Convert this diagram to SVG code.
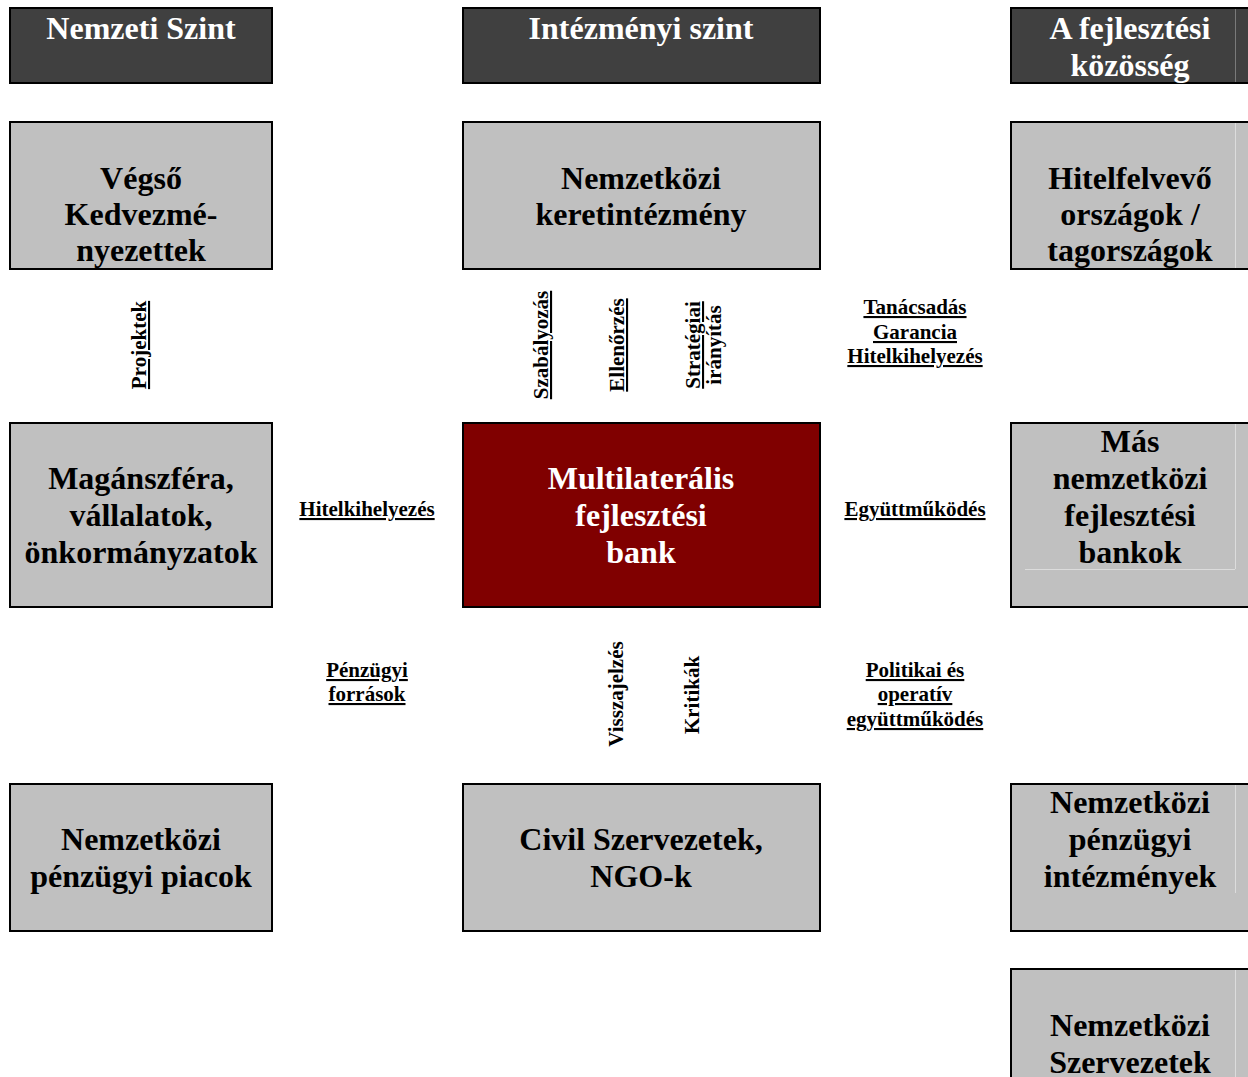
<svg xmlns="http://www.w3.org/2000/svg" width="1248" height="1077" viewBox="0 0 1248 1077">
<style>
.hdr{fill:#404040;stroke:#000;stroke-width:2}
.box{fill:#c0c0c0;stroke:#000;stroke-width:2}
.bank{fill:#800000;stroke:#000;stroke-width:2}
.t{font-family:"Liberation Serif","Times New Roman",serif;font-weight:bold;font-size:32px;text-anchor:middle}
.tw{fill:#fff}
.tb{fill:#000}
.l{font-family:"Liberation Serif","Times New Roman",serif;font-weight:bold;font-size:21px;text-anchor:middle;fill:#000}
.u{text-decoration:underline}
.seam{stroke:#dcdcdc;stroke-width:1}
</style>
<rect width="1248" height="1077" fill="#fff"/>

<g id="hdr-nemzeti">
<rect class="hdr" x="10" y="8" width="262" height="75"/>
<text class="t tw" x="141" y="39">Nemzeti Szint</text>
</g>
<g id="hdr-intezmenyi">
<rect class="hdr" x="463" y="8" width="357" height="75"/>
<text class="t tw" x="641" y="39">Intézményi szint</text>
</g>
<g id="hdr-kozosseg">
<rect class="hdr" x="1011" y="8" width="250" height="75"/>
<line x1="1235.5" y1="9" x2="1235.5" y2="82" stroke="#7a7a7a" stroke-width="1"/>
<text class="t tw" x="1130" y="39">A fejlesztési</text>
<text class="t tw" x="1130" y="76">közösség</text>
</g>

<g id="vegso">
<rect class="box" x="10" y="122" width="262" height="147"/>
<text class="t tb" x="141" y="189">Végső</text>
<text class="t tb" x="141" y="225">Kedvezmé-</text>
<text class="t tb" x="141" y="261">nyezettek</text>
</g>
<g id="keretintezmeny">
<rect class="box" x="463" y="122" width="357" height="147"/>
<text class="t tb" x="641" y="189">Nemzetközi</text>
<text class="t tb" x="641" y="225">keretintézmény</text>
</g>
<g id="hitelfelvevo">
<rect class="box" x="1011" y="122" width="250" height="147"/>
<line class="seam" x1="1235.5" y1="123" x2="1235.5" y2="268"/>
<text class="t tb" x="1130" y="189">Hitelfelvevő</text>
<text class="t tb" x="1130" y="225">országok /</text>
<text class="t tb" x="1130" y="261">tagországok</text>
</g>

<g id="maganszfera">
<rect class="box" x="10" y="423" width="262" height="184"/>
<text class="t tb" x="141" y="489">Magánszféra,</text>
<text class="t tb" x="141" y="526">vállalatok,</text>
<text class="t tb" x="141" y="563">önkormányzatok</text>
</g>
<g id="bank">
<rect class="bank" x="463" y="423" width="357" height="184"/>
<text class="t tw" x="641" y="489">Multilaterális</text>
<text class="t tw" x="641" y="526">fejlesztési</text>
<text class="t tw" x="641" y="563">bank</text>
</g>
<g id="mas-bankok">
<rect class="box" x="1011" y="423" width="250" height="184"/>
<line class="seam" x1="1235.5" y1="424" x2="1235.5" y2="569"/>
<line class="seam" x1="1025" y1="569.5" x2="1235" y2="569.5"/>
<text class="t tb" x="1130" y="452">Más</text>
<text class="t tb" x="1130" y="489">nemzetközi</text>
<text class="t tb" x="1130" y="526">fejlesztési</text>
<text class="t tb" x="1130" y="563">bankok</text>
</g>

<g id="penzugyi-piacok">
<rect class="box" x="10" y="784" width="262" height="147"/>
<text class="t tb" x="141" y="850">Nemzetközi</text>
<text class="t tb" x="141" y="887">pénzügyi piacok</text>
</g>
<g id="civil">
<rect class="box" x="463" y="784" width="357" height="147"/>
<text class="t tb" x="641" y="850">Civil Szervezetek,</text>
<text class="t tb" x="641" y="887">NGO-k</text>
</g>
<g id="penzugyi-intezmenyek">
<rect class="box" x="1011" y="784" width="250" height="147"/>
<line class="seam" x1="1235.5" y1="785" x2="1235.5" y2="893"/>
<text class="t tb" x="1130" y="813">Nemzetközi</text>
<text class="t tb" x="1130" y="850">pénzügyi</text>
<text class="t tb" x="1130" y="887">intézmények</text>
</g>

<g id="nemzetkozi-szervezetek">
<rect class="box" x="1011" y="969" width="250" height="130"/>
<line class="seam" x1="1235.5" y1="970" x2="1235.5" y2="1077"/>
<text class="t tb" x="1130" y="1036">Nemzetközi</text>
<text class="t tb" x="1130" y="1073">Szervezetek</text>
</g>

<g id="connectors">
<text class="l u" transform="translate(146,345) rotate(-90)">Projektek</text>
<text class="l u" transform="translate(548,345) rotate(-90)">Szabályozás</text>
<text class="l u" transform="translate(624,345) rotate(-90)">Ellenőrzés</text>
<text class="l u" transform="translate(700,345) rotate(-90)">Stratégiai</text>
<text class="l" transform="translate(721,345) rotate(-90)">irányítás</text>
<text class="l u" x="915" y="314">Tanácsadás</text>
<text class="l u" x="915" y="339">Garancia</text>
<text class="l u" x="915" y="363">Hitelkihelyezés</text>
<text class="l u" x="367" y="516">Hitelkihelyezés</text>
<text class="l u" x="915" y="516">Együttműködés</text>
<text class="l u" x="367" y="677">Pénzügyi</text>
<text class="l u" x="367" y="701">források</text>
<text class="l u" x="915" y="677">Politikai és</text>
<text class="l u" x="915" y="701">operatív</text>
<text class="l u" x="915" y="726">együttműködés</text>
<text class="l" transform="translate(623,694) rotate(-90)">Visszajelzés</text>
<text class="l" transform="translate(699,695) rotate(-90)">Kritikák</text>
</g>
</svg>
